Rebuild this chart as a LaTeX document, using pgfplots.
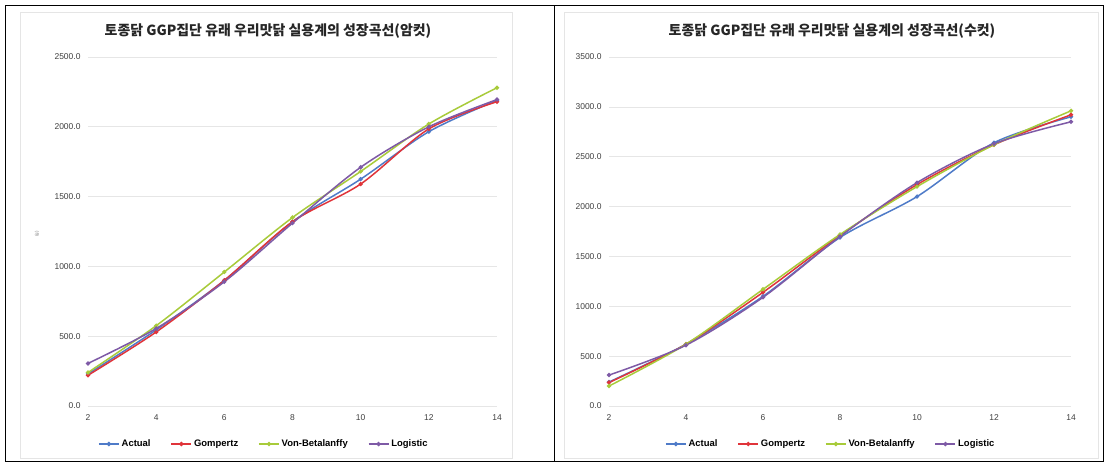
\documentclass[border=0pt]{standalone}
\usepackage{pgfplots}
\pgfplotsset{compat=1.18}
\usepackage{fontspec}
\setmainfont{Liberation Sans}
\newfontfamily\kr{Noto Sans CJK KR}
\definecolor{cAct}{HTML}{4F7BC8}
\definecolor{cGom}{HTML}{E0343A}
\definecolor{cVB}{HTML}{A8CB3A}
\definecolor{cLog}{HTML}{7E5AA6}
\definecolor{gridc}{HTML}{E6E6E6}
\pgfplotsset{
  chart/.style={
    scale only axis,
    xmin=2, xmax=14, ymin=0,
    xtick={2,4,...,14},
    axis line style={draw=none},
    x axis line style={draw=gridc},
    axis x line*=bottom,
    axis y line*=left,
    ymajorgrids, grid style={gridc, line width=0.6pt},
    major tick length=0pt,
    tick label style={font=\fontsize{8.5}{9}\selectfont, text=black!75},
    yticklabel style={xshift=-4bp, /pgf/number format/.cd, fixed, fixed zerofill, precision=1, 1000 sep={}, assume math mode=true},
    xticklabel style={yshift=-5bp, /pgf/number format/.cd, fixed, precision=0, assume math mode=true},
    every axis plot/.append style={smooth, tension=0.5, line width=1.5pt, mark=*, mark size=1.3pt},
    legend style={draw=none, fill=none, legend columns=4, font=\fontsize{9.5}{10}\selectfont\bfseries,
      /tikz/every even column/.append style={column sep=18bp}},
    legend image code/.code={\draw[#1, line width=1.5pt] (0bp,0bp) -- (20bp,0bp); \fill[#1] (10bp,0bp) circle (1.4pt);},
  }
}
\begin{document}
\begin{tikzpicture}[x=1bp,y=1bp]
\fill[white] (0,0) rectangle (1108,466);
\draw[black, line width=0.8pt] (5,5) rectangle (1103,461);
\draw[black, line width=0.8pt] (554,5) -- (554,461);
\draw[black!10, line width=0.5pt] (20,8) rectangle (512,454);
\draw[black!10, line width=0.5pt] (564,8) rectangle (1098,454);
\node[font=\kr\bfseries\fontsize{14}{15}\selectfont, text=black!85] at (268,435) {토종닭 GGP집단 유래 우리맛닭 실용계의 성장곡선(암컷)};
\node[font=\kr\bfseries\fontsize{14}{15}\selectfont, text=black!85] at (832,435) {토종닭 GGP집단 유래 우리맛닭 실용계의 성장곡선(수컷)};
\node[rotate=90, font=\fontsize{4.5}{5}\selectfont, text=black!50] at (37,232) {(g)};

\begin{axis}[chart, at={(88bp,60bp)}, anchor=south west, width=409bp, height=349bp,
  ymax=2500, ytick={0,500,...,2500},
  legend style={at={(0.43,-0.085)}, anchor=north}]
\addplot[color=cAct] coordinates {(2,230) (4,545) (6,900) (8,1320) (10,1625) (12,1965) (14,2190)};
\addplot[color=cGom] coordinates {(2,220) (4,530) (6,900) (8,1320) (10,1590) (12,1985) (14,2180)};
\addplot[color=cVB] coordinates {(2,240) (4,575) (6,960) (8,1350) (10,1680) (12,2020) (14,2280)};
\addplot[color=cLog] coordinates {(2,305) (4,555) (6,890) (8,1310) (10,1710) (12,2000) (14,2195)};
\legend{Actual, Gompertz, Von-Betalanffy, Logistic}
\end{axis}

\begin{axis}[chart, at={(609bp,60bp)}, anchor=south west, width=462bp, height=349bp,
  ymax=3500, ytick={0,500,...,3500},
  legend style={at={(0.48,-0.085)}, anchor=north}]
\addplot[color=cAct] coordinates {(2,240) (4,620) (6,1100) (8,1690) (10,2100) (12,2640) (14,2900)};
\addplot[color=cGom] coordinates {(2,235) (4,620) (6,1140) (8,1710) (10,2220) (12,2620) (14,2920)};
\addplot[color=cVB] coordinates {(2,200) (4,620) (6,1170) (8,1720) (10,2200) (12,2620) (14,2960)};
\addplot[color=cLog] coordinates {(2,310) (4,610) (6,1090) (8,1700) (10,2240) (12,2630) (14,2850)};
\legend{Actual, Gompertz, Von-Betalanffy, Logistic}
\end{axis}
\end{tikzpicture}
\end{document}
